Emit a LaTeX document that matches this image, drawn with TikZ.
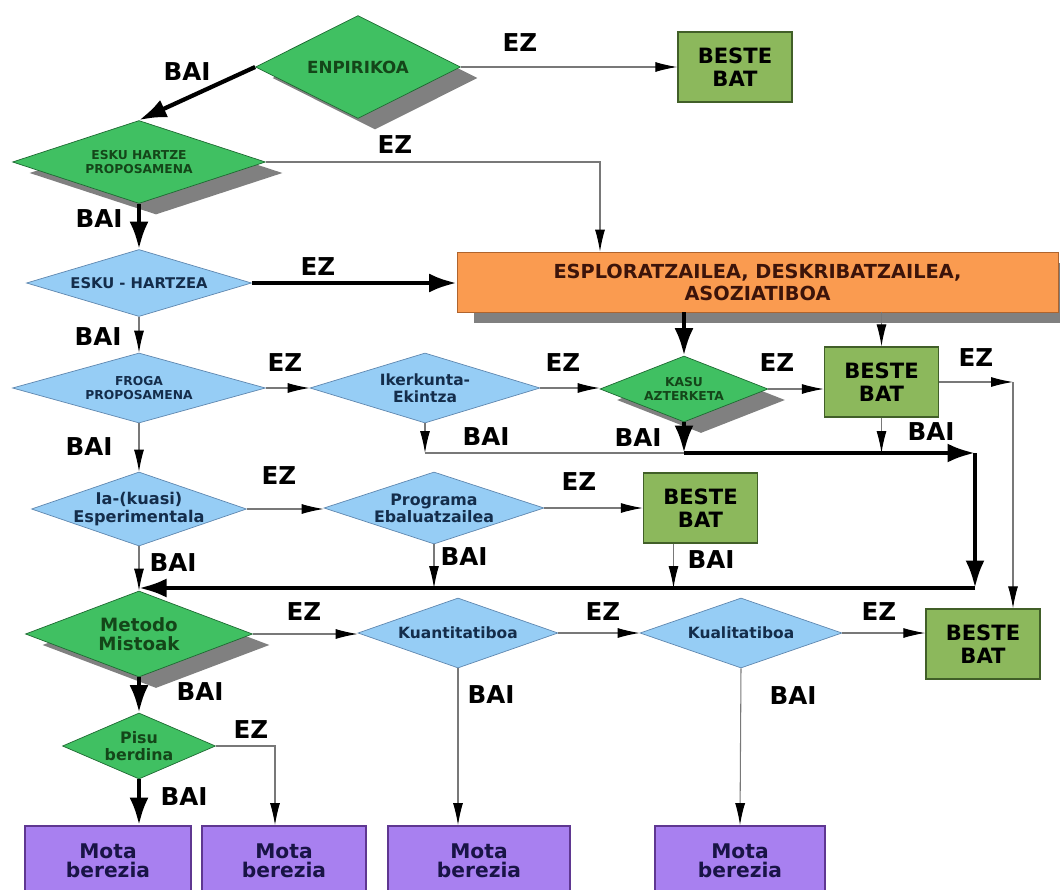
\documentclass[tikz,border=0pt]{standalone}
\usepackage{fontspec}
\setmainfont{DejaVu Sans}
\usepackage{xcolor}
\usetikzlibrary{shapes.geometric}
\usetikzlibrary{arrows.meta, shadows}

\definecolor{dgreen}{RGB}{64,192,98}
\definecolor{dgreenline}{RGB}{30,105,50}
\definecolor{dgreentext}{RGB}{20,70,25}
\definecolor{lblue}{RGB}{150,205,245}
\definecolor{lblueline}{RGB}{95,135,175}
\definecolor{lbluetext}{RGB}{20,45,75}
\definecolor{bestefill}{RGB}{140,184,92}
\definecolor{bestedraw}{RGB}{65,95,40}
\definecolor{orafill}{RGB}{250,155,80}
\definecolor{oradraw}{RGB}{175,100,45}
\definecolor{oratext}{RGB}{60,20,10}
\definecolor{motafill}{RGB}{168,128,240}
\definecolor{motadraw}{RGB}{95,55,145}
\definecolor{motatext}{RGB}{25,20,70}
\definecolor{shadowgray}{RGB}{128,128,128}
\definecolor{linegray}{RGB}{120,120,120}

\begin{document}
\begin{tikzpicture}[x=0.2mm, y=-0.2mm,
	fs/.style 2 args={font=\fontsize{#1}{#2}\selectfont\bfseries},
	dsize/.style n args={3}{minimum width=#1*0.2mm, minimum height=#2*0.2mm, aspect=#3},
	gdia/.style={diamond, draw=dgreenline, fill=dgreen, inner xsep=0pt, inner ysep=-4pt, align=center, text=dgreentext},
	bdia/.style={diamond, draw=lblueline, fill=lblue, inner xsep=0pt, inner ysep=-4pt, align=center, text=lbluetext},
	shad/.style={drop shadow={shadow xshift=3.4mm, shadow yshift=-2.2mm, fill=shadowgray, opacity=1}},
	beste/.style={rectangle, draw=bestedraw, fill=bestefill, line width=0.8pt, align=center,
		minimum width=114*0.2mm, minimum height=70*0.2mm, fs={12}{13}},
	mota/.style={rectangle, draw=motadraw, fill=motafill, line width=1pt, align=center, text=motatext,
		minimum height=70*0.2mm, fs={11.5}{11}},
	lab/.style={fs={14}{14}},
	line/.style={draw=linegray, line width=0.6pt},
	flow/.style={line, -{Latex[length=4.4mm, width=2mm, color=black]}},
	mainflow/.style={draw=black, line width=2.4pt, -{Latex[length=5.5mm, width=3.8mm]}}]

	\useasboundingbox (0,0) rectangle (1060,890);

	% top decisions
	\node[gdia, shad, dsize={205}{103}{2.0}, fs={9.5}{10}] (enp) at (358,67) {ENPIRIKOA};
	\node[beste] (b1) at (735,67) {BESTE\\BAT};
	\node[gdia, shad, dsize={253}{83}{3.05}, fs={7}{8}] (ehp) at (139,162) {ESKU HARTZE\\PROPOSAMENA};
	\node[bdia, dsize={225}{67}{3.36}, fs={8.4}{9}] (esk) at (139,283) {ESKU - HARTZEA};
	\node[rectangle, draw=oradraw, fill=orafill, shad, minimum width=601*0.2mm, minimum height=60*0.2mm,
		align=center, text=oratext, fs={11}{12.5}] (ora) at (757.5,282)
		{ESPLORATZAILEA, DESKRIBATZAILEA,\\ASOZIATIBOA};

	% second row
	\node[bdia, dsize={253}{70}{3.6}, fs={7}{8}] (fro) at (139,388) {FROGA\\PROPOSAMENA};
	\node[bdia, dsize={230}{70}{3.3}, fs={8.8}{9.5}] (ike) at (425,388) {Ikerkunta-\\Ekintza};
	\node[gdia, shad, dsize={168}{66}{2.55}, fs={7}{7.5}] (kas) at (684,389) {KASU\\AZTERKETA};
	\node[beste] (b2) at (881.5,382) {BESTE\\BAT};

	% third row
	\node[bdia, dsize={215}{74}{2.9}, fs={9.2}{9.8}] (ia) at (139,509) {Ia-(kuasi)\\Esperimentala};
	\node[bdia, dsize={220}{72}{3.05}, fs={9}{9.6}] (pro) at (434,508) {Programa\\Ebaluatzailea};
	\node[beste] (b3) at (700.5,508) {BESTE\\BAT};

	% mixed methods
	\node[gdia, shad, dsize={227}{86}{2.64}, fs={10.4}{11}] (met) at (139,634) {Metodo\\Mistoak};
	\node[bdia, dsize={200}{70}{2.86}, fs={8.8}{9}] (kua) at (458,633) {Kuantitatiboa};
	\node[bdia, dsize={202}{70}{2.89}, fs={8.8}{9}] (kul) at (741,633) {Kualitatiboa};
	\node[beste] (b4) at (983,644) {BESTE\\BAT};
	\node[gdia, dsize={153}{66}{2.32}, fs={9}{9.5}] (pis) at (139,746) {Pisu\\berdina};

	% bottom boxes
	\node[mota, minimum width=166*0.2mm] (m1) at (108,861) {Mota\\berezia};
	\node[mota, minimum width=164*0.2mm] (m2) at (284,861) {Mota\\berezia};
	\node[mota, minimum width=182*0.2mm] (m3) at (479,861) {Mota\\berezia};
	\node[mota, minimum width=170*0.2mm] (m4) at (740,861) {Mota\\berezia};

	% joints of the thick path
	\coordinate (j1) at (684,453);
	\coordinate (j2) at (975,453);
	\coordinate (j3) at (975,588);
	\coordinate (c1) at (600,162);
	\coordinate (c2) at (1013,382);

	% connectors
	\draw[mainflow] (enp.west) -- (ehp.north);
	\draw[flow] (enp.east) -- (b1.west);
	\draw[flow] (ehp.east) -- (c1) -- (c1 |- ora.north);
	\draw[mainflow] (ehp.south) -- (esk.north);
	\draw[mainflow] (esk.east) -- (esk.east -| ora.west);
	\draw[flow] (esk.south) -- (fro.north);
	\draw[mainflow] (kas.north |- ora.south) -- (kas.north);
	\draw[flow] (b2.north |- ora.south) -- (b2.north);
	\draw[flow] (fro.east) -- (ike.west);
	\draw[flow] (ike.east) -- (ike.east -| kas.west);
	\draw[flow] (kas.east) -- (kas.east -| b2.west);
	\draw[flow] (b2.east) -- (c2);
	\draw[flow] (c2) -- (c2 |- b4.north);
	\draw[flow] (ike.south) -- (ike.south |- j1);
	\draw[line] (ike.south |- j1) -- (j1);
	\draw[flow] (b2.south) -- (b2.south |- j1);
	\draw[mainflow] (kas.south) -- (j1);
	\draw[mainflow] (j1) -- (j2);
	\draw[mainflow] (j2) -- (j3);
	\draw[mainflow] (j3) -- (j3 -| met.north);
	\draw[flow] (fro.south) -- (ia.north);
	\draw[flow] (ia.east) -- (ia.east -| pro.west);
	\draw[flow] (pro.east) -- (b3.west);
	\draw[flow] (ia.south) -- (met.north);
	\draw[flow] (pro.south) -- (pro.south |- j3);
	\draw[flow] ([xshift=-5.4mm]b3.south) -- ([xshift=-5.4mm]b3.south |- j3);
	\draw[flow] (met.east) -- (met.east -| kua.west);
	\draw[flow] (kua.east) -- (kul.west);
	\draw[flow] (kul.east) -- (kul.east -| b4.west);
	\draw[mainflow] (met.south) -- (pis.north);
	\draw[mainflow] (pis.south) -- (pis.south |- m1.north);
	\draw[flow] (pis.east) -| ([xshift=-1.8mm]m2.north);
	\draw[flow] (kua.south) -- (kua.south |- m3.north);
	\draw[flow] (kul.south) -- (m4.north);

	% yes / no labels
	\node[lab] (l1) at (187,72) {BAI};
	\node[lab] (l2) at (520,43) {EZ};
	\node[lab] (l3) at (395,145) {EZ};
	\node[lab] (l4) at (99,219) {BAI};
	\node[lab] (l5) at (318,267) {EZ};
	\node[lab] (l6) at (98,337) {BAI};
	\node[lab] (l7) at (285,363) {EZ};
	\node[lab] (l8) at (563,363) {EZ};
	\node[lab] (l9) at (777,363) {EZ};
	\node[lab] (l10) at (976,358) {EZ};
	\node[lab] (l11) at (89,447) {BAI};
	\node[lab] (l12) at (486,437) {BAI};
	\node[lab] (l13) at (638,438) {BAI};
	\node[lab] (l14) at (931,432) {BAI};
	\node[lab] (l15) at (279,476) {EZ};
	\node[lab] (l16) at (579,482) {EZ};
	\node[lab] (l17) at (173,563) {BAI};
	\node[lab] (l18) at (464,557) {BAI};
	\node[lab] (l19) at (711,560) {BAI};
	\node[lab] (l20) at (304,612) {EZ};
	\node[lab] (l21) at (603,612) {EZ};
	\node[lab] (l22) at (879,612) {EZ};
	\node[lab] (l23) at (200,692) {BAI};
	\node[lab] (l24) at (491,695) {BAI};
	\node[lab] (l25) at (793,696) {BAI};
	\node[lab] (l26) at (251,730) {EZ};
	\node[lab] (l27) at (184,797) {BAI};

\end{tikzpicture}
\end{document}
